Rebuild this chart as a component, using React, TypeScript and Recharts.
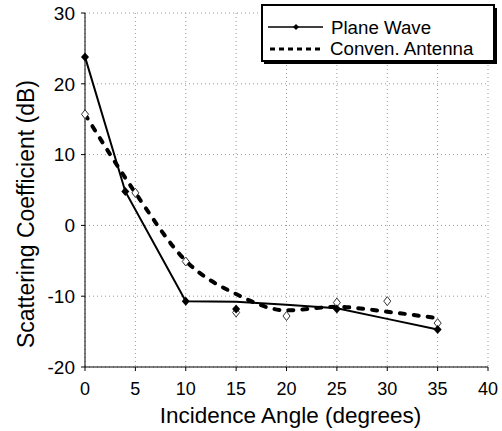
import { ComposedChart, Line, Scatter, XAxis, YAxis, CartesianGrid } from "recharts"

// curve vertices
const planeLineX = [0, 4, 10, 15, 20, 25, 30, 35]
const planeLineY = [23.8, 4.8, -10.7, -10.8, -11.2, -11.7, -13.2, -14.7]
const antennaLineX = [0, 5, 10, 15, 20, 25, 30, 35]
const antennaLineY = [15.7, 4.6, -5.0, -9.7, -12.0, -11.5, -12.2, -13.1]

// measured points
const planeMeasX = [0, 4, 10, 15, 25, 35]
const planeMeasY = [23.8, 4.8, -10.7, -11.8, -11.8, -14.7]
const antennaMeasX = [0, 5, 10, 15, 20, 25, 30, 35]
const antennaMeasY = [15.7, 4.6, -5.1, -12.3, -12.8, -10.9, -10.7, -13.8]

const xTicks = [0, 5, 10, 15, 20, 25, 30, 35, 40]
const yTicks = [-20, -10, 0, 10, 20, 30]
const legendNames = ["Plane Wave", "Conven. Antenna"]

const FONT = "'Liberation Sans', Arial, Helvetica, sans-serif"

const zip = (xs: number[], ys: number[]) => xs.map((x, i) => ({ x, y: ys[i] }))

const planeLine = zip(planeLineX, planeLineY)
const antennaLine = zip(antennaLineX, antennaLineY)
const planeMeas = zip(planeMeasX, planeMeasY)
const antennaMeas = zip(antennaMeasX, antennaMeasY)

function FilledDiamond(props: any) {
  const { cx, cy } = props
  if (cx == null || cy == null) return null
  return <polygon points={`${cx},${cy - 4.5} ${cx + 4},${cy} ${cx},${cy + 4.5} ${cx - 4},${cy}`} fill="#000" />
}

function HollowDiamond(props: any) {
  const { cx, cy } = props
  if (cx == null || cy == null) return null
  return (
    <polygon
      points={`${cx},${cy - 4.5} ${cx + 3.5},${cy} ${cx},${cy + 4.5} ${cx - 3.5},${cy}`}
      fill="#fff"
      stroke="#333"
      strokeWidth={1}
    />
  )
}

function renderXLabel(props: any) {
  const vb = props.viewBox || {}
  return (
    <text x={vb.x + vb.width / 2 + 4} y={vb.y + 56} textAnchor="middle" fontSize={22.5} fontFamily={FONT} fill="#000">
      Incidence Angle (degrees)
    </text>
  )
}

function renderYLabel(props: any) {
  const vb = props.viewBox || {}
  const cx = vb.x + 34
  const cy = vb.y + vb.height / 2 + 24
  return (
    <text
      x={cx}
      y={cy}
      transform={`rotate(-90 ${cx} ${cy})`}
      textAnchor="middle"
      fontSize={23}
      fontFamily={FONT}
      fill="#000"
    >
      Scattering Coefficient (dB)
    </text>
  )
}

function LegendBox() {
  return (
    <svg width={502} height={431} style={{ position: "absolute", left: 0, top: 0, pointerEvents: "none" }}>
      <rect x={264} y={8} width={233} height={56} fill="#000" />
      <rect x={262} y={5} width={232} height={56} fill="#fff" stroke="#000" strokeWidth={2} />
      <line x1={268} y1={27} x2={323} y2={27} stroke="#000" strokeWidth={1.5} />
      <polygon points="296,24 299,27 296,30 293,27" fill="#000" />
      <line x1={270} y1={49} x2={323} y2={49} stroke="#000" strokeWidth={3} strokeDasharray="5 4" />
      <text x={331} y={34} fontSize={18.7} fontFamily={FONT} fill="#000">
        {legendNames[0]}
      </text>
      <text x={330} y={55} fontSize={18.7} fontFamily={FONT} fill="#000">
        {legendNames[1]}
      </text>
    </svg>
  )
}

export default function App() {
  return (
    <div style={{ position: "absolute", left: 0, top: 0, width: 502, height: 431, background: "#fff" }}>
      <ComposedChart width={502} height={431} margin={{ top: 13, right: 14, left: 0, bottom: 0 }}>
        <CartesianGrid xAxisId="b" yAxisId="l" strokeDasharray="1 3" stroke="#999" />
        <XAxis
          xAxisId="b"
          type="number"
          dataKey="x"
          domain={[0, 40]}
          ticks={xTicks}
          height={64}
          stroke="#000"
          tickSize={4}
          tickMargin={11}
          tick={{ fill: "#000", fontSize: 18, fontFamily: FONT }}
          label={renderXLabel}
        />
        <XAxis
          xAxisId="t"
          orientation="top"
          type="number"
          domain={[0, 40]}
          ticks={xTicks}
          height={0}
          mirror
          tick={false}
          tickSize={5}
          stroke="#000"
        />
        <YAxis
          yAxisId="l"
          type="number"
          domain={[-20, 30]}
          ticks={yTicks}
          width={85}
          stroke="#000"
          tickSize={4}
          tickMargin={6}
          tick={{ fill: "#000", fontSize: 19, fontFamily: FONT }}
          label={renderYLabel}
        />
        <YAxis
          yAxisId="r"
          orientation="right"
          type="number"
          domain={[-20, 30]}
          ticks={yTicks}
          width={0}
          mirror
          tick={false}
          tickSize={5}
          stroke="#000"
        />
        <Line
          xAxisId="b"
          yAxisId="l"
          data={antennaLine}
          dataKey="y"
          type="monotone"
          stroke="#000"
          strokeWidth={4}
          strokeDasharray="5 9"
          strokeLinecap="round"
          dot={false}
          isAnimationActive={false}
        />
        <Line
          xAxisId="b"
          yAxisId="l"
          data={planeLine}
          dataKey="y"
          type="linear"
          stroke="#000"
          strokeWidth={2}
          dot={false}
          isAnimationActive={false}
        />
        <Scatter xAxisId="b" yAxisId="l" data={antennaMeas} dataKey="y" shape={HollowDiamond} isAnimationActive={false} />
        <Scatter xAxisId="b" yAxisId="l" data={planeMeas} dataKey="y" shape={FilledDiamond} isAnimationActive={false} />
      </ComposedChart>
      <LegendBox />
    </div>
  )
}
